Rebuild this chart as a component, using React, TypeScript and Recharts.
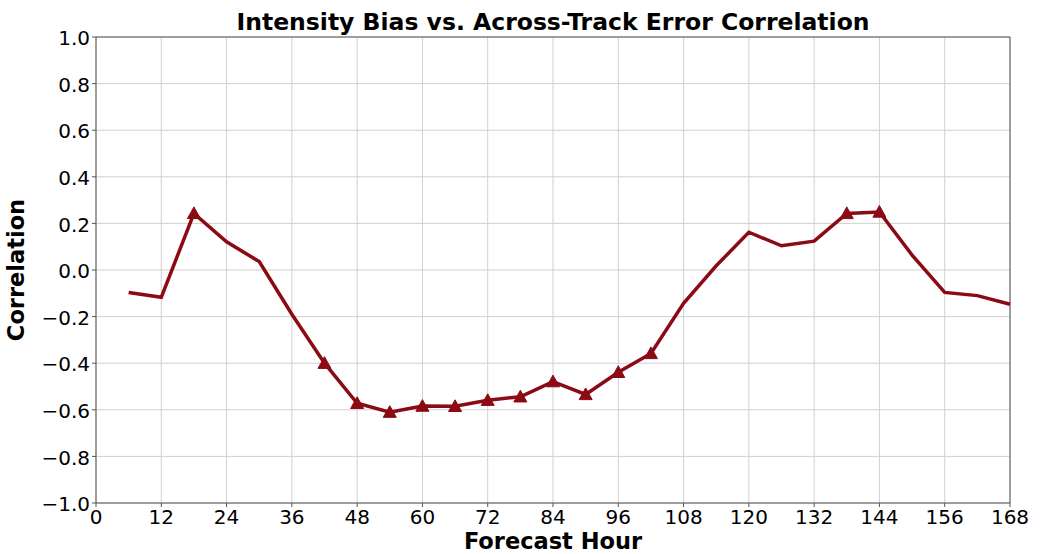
import React from "react";
import {
  LineChart,
  Line,
  XAxis,
  YAxis,
  CartesianGrid,
  ReferenceLine,
} from "recharts";

const hours = [
  6, 12, 18, 24, 30, 36, 42, 48, 54, 60, 66, 72, 78, 84, 90, 96, 102, 108,
  114, 120, 126, 132, 138, 144, 150, 156, 162, 168,
];
const correlation = [
  -0.097, -0.117, 0.243, 0.121, 0.036, -0.19, -0.4, -0.572, -0.61, -0.584,
  -0.585, -0.559, -0.544, -0.479, -0.534, -0.439, -0.358, -0.143, 0.018,
  0.162, 0.104, 0.124, 0.243, 0.249, 0.064, -0.096, -0.11, -0.147,
];
// hours where the correlation is marked with a triangle
const significant = [18, 42, 48, 54, 60, 66, 72, 78, 84, 90, 96, 102, 138, 144];

const xTicks = [0, 12, 24, 36, 48, 60, 72, 84, 96, 108, 120, 132, 144, 156, 168];
const yTicks = [-1, -0.8, -0.6, -0.4, -0.2, 0, 0.2, 0.4, 0.6, 0.8, 1];

const data = hours.map((h, i) => ({
  hour: h,
  corr: correlation[i],
  sig: significant.includes(h),
}));

const FONT = "'DejaVu Sans', sans-serif";
const RED = "#8b0a14";
const FRAME = "#555";

const fmt = (v: number) => {
  const s = Math.abs(v).toFixed(1);
  return v < -1e-9 ? "\u2212" + s : s;
};

const TriangleDot = (props: any) => {
  const { cx, cy, payload, index } = props;
  if (!payload || !payload.sig) return <g key={index} />;
  const r = 6.5;
  return (
    <path
      key={index}
      d={`M${cx},${cy - r} L${cx + r},${cy + r * 0.8} L${cx - r},${cy + r * 0.8} Z`}
      fill={RED}
      stroke={RED}
    />
  );
};

export default function App() {
  return (
    <div
      style={{
        position: "absolute",
        left: 0,
        top: 0,
        width: 1045,
        height: 554,
        background: "#fff",
        fontFamily: FONT,
      }}
    >
      <div
        style={{
          position: "absolute",
          top: 8,
          left: 96,
          width: 914,
          textAlign: "center",
          fontWeight: "bold",
          fontSize: 23.5,
          color: "#000",
          lineHeight: "28px",
        }}
      >
        Intensity Bias vs. Across-Track Error Correlation
      </div>
      <LineChart
        width={1045}
        height={554}
        data={data}
        margin={{ top: 37, right: 35, bottom: 0, left: 0 }}
      >
        <CartesianGrid stroke="#d0d0d0" strokeWidth={1} />
        <XAxis
          dataKey="hour"
          type="number"
          domain={[0, 168]}
          ticks={xTicks}
          interval={0}
          height={51}
          stroke={FRAME}
          tickSize={4}
          tick={{ fill: "#000", fontSize: 20, fontFamily: FONT, dy: 1 }}
        />
        <YAxis
          type="number"
          domain={[-1, 1]}
          ticks={yTicks}
          interval={0}
          width={96}
          stroke={FRAME}
          tickSize={4}
          tickFormatter={fmt}
          tick={{ fill: "#000", fontSize: 20, fontFamily: FONT, dy: 1 }}
          label={{
            value: "Correlation",
            angle: -90,
            position: "insideLeft",
            offset: 16,
            style: { textAnchor: "middle" },
            fill: "#000",
            fontSize: 22.5,
            fontWeight: "bold",
            fontFamily: FONT,
          }}
        />
        <ReferenceLine y={1} stroke={FRAME} strokeWidth={1} />
        <ReferenceLine x={168} stroke={FRAME} strokeWidth={1} />
        <Line
          type="linear"
          dataKey="corr"
          stroke={RED}
          strokeWidth={3.5}
          dot={TriangleDot}
          activeDot={false}
          isAnimationActive={false}
        />
      </LineChart>
      <div
        style={{
          position: "absolute",
          top: 530,
          left: 96,
          width: 914,
          textAlign: "center",
          fontWeight: "bold",
          fontSize: 22.5,
          color: "#000",
          lineHeight: "22px",
        }}
      >
        Forecast Hour
      </div>
    </div>
  );
}
